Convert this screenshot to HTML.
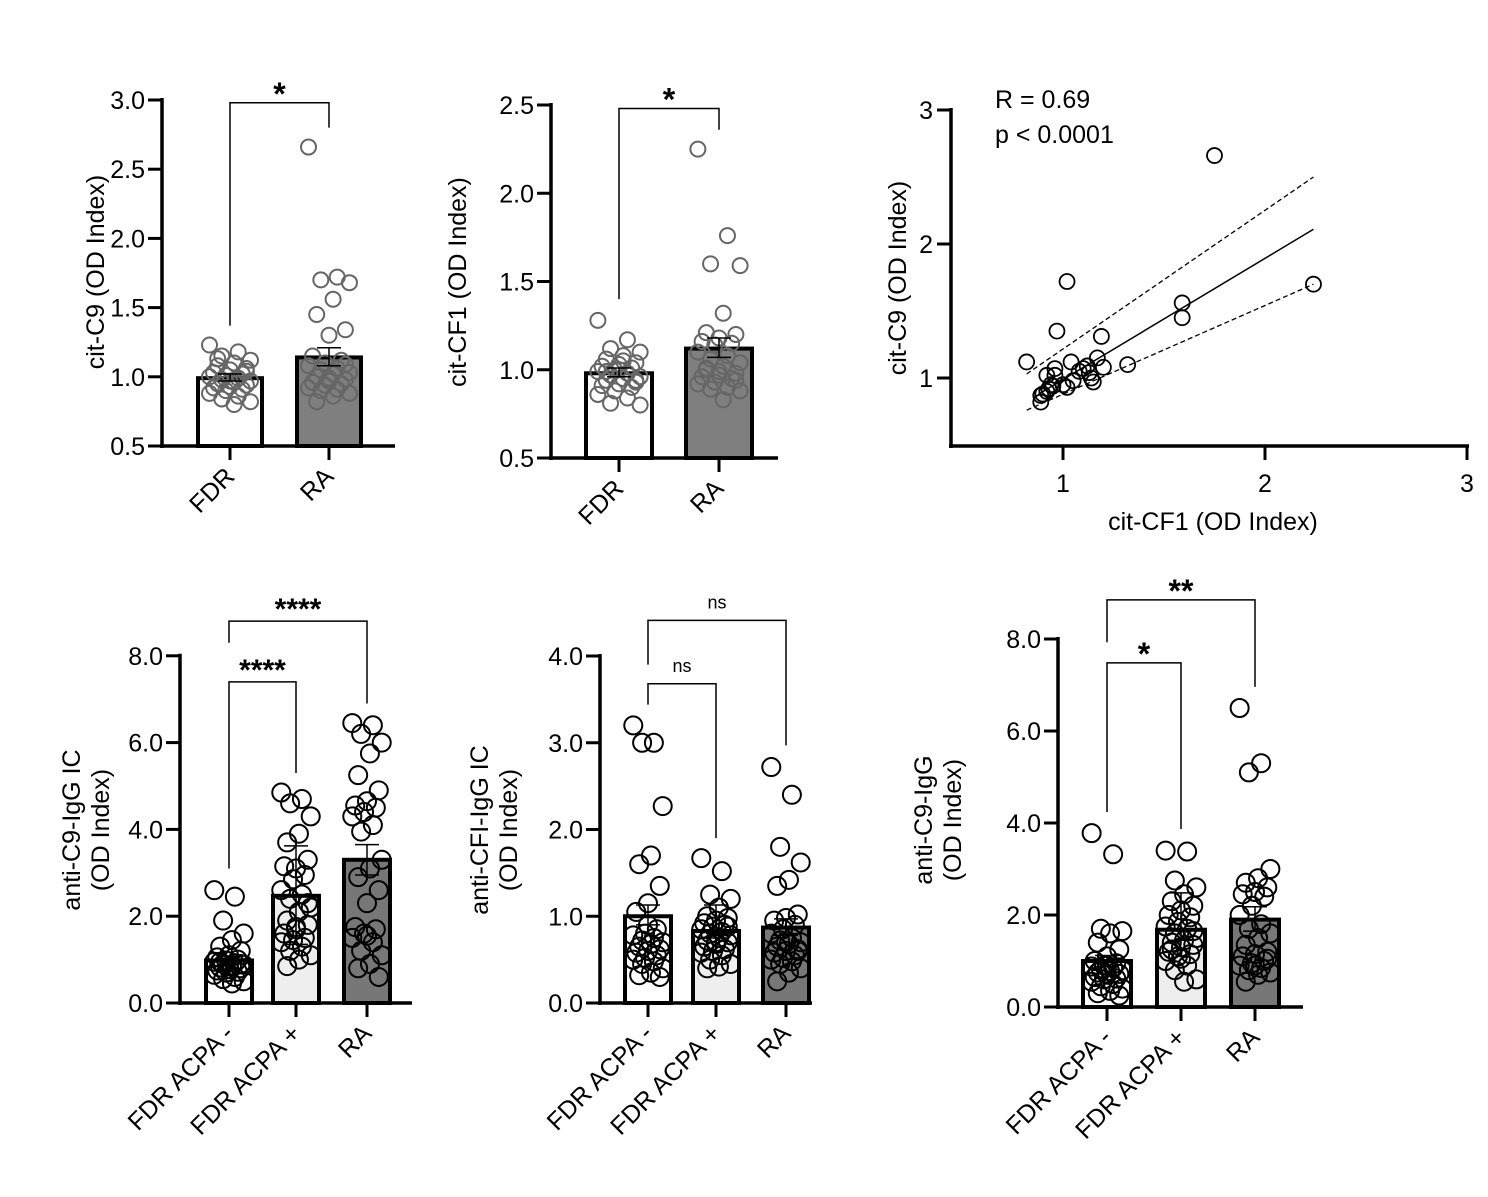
<!DOCTYPE html>
<html><head><meta charset="utf-8"><style>
body{margin:0;background:#fff}
svg text{font-family:"Liberation Sans",Arial,sans-serif;fill:#000}
</style></head><body>
<svg id="fig" width="1488" height="1192" viewBox="0 0 1488 1192"></svg>
<script>
// ---- data ----
const catsTop = ["FDR","RA"];
const catsBot = ["FDR ACPA -","FDR ACPA +","RA"];

const aFDR = [1.23,1.18,1.15,1.12,1.10,1.08,1.06,1.05,1.03,1.02,1.01,1.00,0.99,0.98,0.97,0.96,0.95,0.94,0.93,0.92,0.91,0.90,0.88,0.86,0.84,0.82,0.80,1.13,1.04,0.97];
const aRA = [2.66,1.72,1.70,1.68,1.56,1.45,1.34,1.30,1.15,1.12,1.10,1.08,1.06,1.05,1.03,1.02,1.00,0.98,0.97,0.96,0.95,0.94,0.92,0.91,0.90,0.88,0.86,0.82,1.09,0.99];
const aMeans = [0.99,1.14];
const aErrUp = [1.02,1.21];
const aErrDn = [0.97,1.08];

const bFDR = [1.28,1.17,1.12,1.10,1.08,1.06,1.04,1.03,1.02,1.01,1.00,0.99,0.98,0.97,0.96,0.95,0.94,0.93,0.92,0.91,0.90,0.88,0.86,0.84,0.81,0.80,1.05,0.99,0.94,1.00];
const bRA = [2.25,1.76,1.60,1.59,1.32,1.21,1.20,1.18,1.16,1.15,1.14,1.10,1.08,1.06,1.04,1.02,1.00,0.98,0.97,0.96,0.95,0.93,0.92,0.90,0.89,0.88,0.83,1.01,0.94,0.99];
const bMeans = [0.98,1.12];
const bErrUp = [1.01,1.18];
const bErrDn = [0.96,1.07];

const cX = [1.75,1.02,2.24,1.59,1.59,0.97,1.19,0.82,1.17,1.04,1.32,1.20,0.96,1.10,1.12,1.13,1.08,0.92,0.96,1.15,1.14,1.05,1.00,1.02,0.94,0.93,0.92,0.90,0.89,0.89,0.95];
const cY = [2.66,1.72,1.70,1.56,1.45,1.35,1.31,1.12,1.15,1.12,1.10,1.08,1.07,1.07,1.09,1.04,1.05,1.02,1.02,0.97,1.00,0.98,0.95,0.93,0.95,0.92,0.90,0.88,0.87,0.82,0.94];
const fitX = [0.88,2.24];
const fitY = [0.88,2.11];
const bandX = [0.82,2.24];
const bandUpY = [1.03,2.50];
const bandLoY = [0.76,1.70];

const dG1 = [2.6,2.45,1.9,1.6,1.45,1.3,1.2,1.1,1.05,1.0,0.98,0.95,0.92,0.9,0.88,0.85,0.82,0.8,0.78,0.75,0.72,0.7,0.65,0.6,0.55,0.5,0.45,0.95,0.9,0.85];
const dG2 = [4.85,4.7,4.6,4.3,3.9,3.7,3.3,3.1,3.15,2.95,2.85,2.6,2.5,2.4,2.2,2.1,1.9,1.8,1.7,1.6,1.5,1.45,1.4,1.3,1.2,1.1,1.0,0.85,2.3,1.75];
const dG3 = [6.45,6.4,6.2,6.0,5.75,5.25,4.9,4.65,4.55,4.5,4.4,4.3,4.1,3.95,3.3,3.1,2.9,2.6,2.3,1.75,1.7,1.6,1.5,1.4,1.2,1.1,0.9,0.8,0.6,1.55];
const dMeans = [0.98,2.47,3.3];
const dErrUp = [1.08,3.62,3.65];
const dErrDn = [0.9,1.35,2.95];

const eG1 = [3.2,3.0,3.0,2.27,1.7,1.6,1.35,1.15,1.05,0.85,0.8,0.78,0.75,0.72,0.7,0.68,0.65,0.62,0.6,0.58,0.55,0.52,0.5,0.48,0.45,0.4,0.35,0.32,0.3,0.9];
const eG2 = [1.67,1.52,1.25,1.2,1.1,1.0,0.98,0.95,0.92,0.9,0.88,0.85,0.82,0.8,0.78,0.75,0.72,0.7,0.68,0.65,0.62,0.6,0.58,0.55,0.5,0.45,0.42,0.4,0.88,0.7];
const eG3 = [2.72,2.4,1.8,1.62,1.42,1.35,1.02,0.98,0.95,0.9,0.85,0.8,0.75,0.72,0.7,0.68,0.65,0.62,0.6,0.58,0.55,0.52,0.5,0.48,0.45,0.4,0.35,0.25,0.6,0.7];
const eMeans = [1.0,0.83,0.87];
const eErrUp = [1.13,1.13,0.97];
const eErrDn = [0.9,0.75,0.78];

const fG1 = [3.78,3.32,1.7,1.65,1.6,1.4,1.25,1.1,1.0,0.95,0.9,0.88,0.85,0.82,0.8,0.78,0.75,0.72,0.7,0.65,0.62,0.6,0.55,0.5,0.45,0.4,0.35,0.3,0.25,0.9];
const fG2 = [3.4,3.38,2.75,2.6,2.45,2.3,2.2,2.1,2.0,1.95,1.85,1.75,1.7,1.6,1.5,1.45,1.4,1.35,1.3,1.2,1.15,1.1,1.0,0.9,0.8,0.6,0.55,1.25,1.65,1.05];
const fG3 = [6.5,5.3,5.1,3.0,2.8,2.7,2.6,2.5,2.45,2.4,2.2,2.0,1.8,1.7,1.6,1.5,1.35,1.2,1.15,1.1,1.0,0.95,0.9,0.85,0.8,0.75,0.7,0.55,1.05,0.9];
const fMeans = [1.0,1.68,1.9];
const fErrUp = [1.12,2.48,2.18];
const fErrDn = [0.88,1.45,1.65];

const ticksA = [0.5,1.0,1.5,2.0,2.5,3.0];
const ticksB = [0.5,1.0,1.5,2.0,2.5];
const ticksC = [1,2,3];
const ticksD = [0,2,4,6,8];
const ticksE = [0,1,2,3,4];

// ---- drawing ----
const NS="http://www.w3.org/2000/svg";
const svg=document.getElementById('fig');
function el(tag,attrs,parent){const e=document.createElementNS(NS,tag);for(const k in attrs)e.setAttribute(k,attrs[k]);(parent||svg).appendChild(e);return e;}
function txt(s,attrs,parent){const t=el('text',attrs,parent);t.textContent=s;return t;}
function lin(x1,y1,x2,y2,w,parent,extra){const l=el('line',Object.assign({x1,y1,x2,y2,stroke:'#000','stroke-width':w},extra||{}),parent);return l;}

function barPanel(cfg){
  const g=el('g',{});
  
  
  const y=v=>cfg.y0-(v-cfg.vmin)*cfg.ppu;
  cfg.groups.forEach((pts,i)=>{
    const cx=cfg.cx[i],w=cfg.bw;
    const r=el('rect',{x:cx-w/2,y:y(cfg.means[i]),width:w,height:cfg.y0-y(cfg.means[i]),fill:cfg.fills[i],stroke:'#000','stroke-width':4},g);
    
    
  });
  cfg.groups.forEach((pts,i)=>{
    pts.forEach((v,j)=>{
      const dx=(((j*7)%11)-5)/5*cfg.bw*0.32;
      const c=el('circle',{cx:cfg.cx[i]+dx,cy:y(v),r:cfg.pr,fill:'none',stroke:cfg.pc,'stroke-width':2},g);
      
      
    });
  });
  cfg.groups.forEach((pts,i)=>{
    const cx=cfg.cx[i];
    lin(cx,y(cfg.errUp[i]),cx,y(cfg.errDn[i]),1.5,g);
    lin(cx-12,y(cfg.errUp[i]),cx+12,y(cfg.errUp[i]),1.5,g);
    lin(cx-12,y(cfg.errDn[i]),cx+12,y(cfg.errDn[i]),1.5,g);
  });
  lin(cfg.ax,cfg.y0+2,cfg.ax,y(cfg.ticks[cfg.ticks.length-1])-2,3.5,g);
  lin(cfg.ax-2,cfg.y0,cfg.axEnd,cfg.y0,3.5,g);
  cfg.ticks.forEach(t=>{
    lin(cfg.ax-14,y(t),cfg.ax,y(t),3,g);
    const tl=txt(t.toFixed(1),{x:cfg.ax-17,y:y(t)+9,'font-size':25,'text-anchor':'end'},g);
    
    
  });
  cfg.cats.forEach((c,i)=>{
    lin(cfg.cx[i],cfg.y0,cfg.cx[i],cfg.y0+14,3,g);
    const tl=txt(c,{x:cfg.cx[i]+6,y:cfg.y0+32,'font-size':25,'text-anchor':'end',transform:`rotate(-45 ${cfg.cx[i]+6} ${cfg.y0+32})`},g);
    
    
  });
  cfg.title.forEach((s,k)=>{
    const tx=cfg.tx+k*29,ty=cfg.ty;
    const t=txt(s,{x:tx,y:ty,'font-size':25,'text-anchor':'middle',transform:`rotate(-90 ${tx} ${ty})`},g);
    
    
  });
  cfg.brackets.forEach(b=>{
    const x1=cfg.cx[b.a],x2=cfg.cx[b.b];
    el('polyline',{points:`${x1},${y(b.l)} ${x1},${y(b.top)} ${x2},${y(b.top)} ${x2},${y(b.r)}`,fill:'none',stroke:'#000','stroke-width':1.5},g);
    const t=txt(b.s,{x:(x1+x2)/2,y:y(b.top)+b.dy,'font-size':b.fs,'font-weight':b.s==='ns'?'normal':'bold','text-anchor':'middle'},g);
    
    
  });
}

barPanel({name:'panel-cit-c9',cats:catsTop,groups:[aFDR,aRA],means:aMeans,errUp:aErrUp,errDn:aErrDn,
  cx:[230,329],bw:64,ax:162,axEnd:395,y0:446,vmin:0.5,ppu:138.4,ticks:ticksA,fills:['#fff','#7f7f7f'],pc:'#666',pr:7.5,
  title:['cit-C9 (OD Index)'],tx:104,ty:272,
  brackets:[{a:0,b:1,top:2.98,l:1.37,r:2.8,s:'*',dy:2,fs:32}]});
barPanel({name:'panel-cit-cf1',cats:catsTop,groups:[bFDR,bRA],means:bMeans,errUp:bErrUp,errDn:bErrDn,
  cx:[619,719],bw:66,ax:551,axEnd:778,y0:458,vmin:0.5,ppu:176.5,ticks:ticksB,fills:['#fff','#7f7f7f'],pc:'#666',pr:7.5,
  title:['cit-CF1 (OD Index)'],tx:466,ty:282,
  brackets:[{a:0,b:1,top:2.48,l:1.4,r:2.36,s:'*',dy:2,fs:32}]});
barPanel({name:'panel-anti-c9-igg-ic',cats:catsBot,groups:[dG1,dG2,dG3],means:dMeans,errUp:dErrUp,errDn:dErrDn,
  cx:[229,296,367],bw:46,ax:180,axEnd:412,y0:1003,vmin:0,ppu:43.4,ticks:ticksD,fills:['#fff','#eee','#777'],pc:'#000',pr:9,
  title:['anti-C9-IgG IC','(OD Index)'],tx:80,ty:830,
  brackets:[{a:0,b:1,top:7.4,l:3.1,r:5.3,s:'****',dy:-2,fs:30},{a:0,b:2,top:8.8,l:8.3,r:6.9,s:'****',dy:-2,fs:30}]});
barPanel({name:'panel-anti-cfi-igg-ic',cats:catsBot,groups:[eG1,eG2,eG3],means:eMeans,errUp:eErrUp,errDn:eErrDn,
  cx:[648,716,786],bw:46,ax:600,axEnd:812,y0:1003,vmin:0,ppu:86.75,ticks:ticksE,fills:['#fff','#eee','#777'],pc:'#000',pr:9,
  title:['anti-CFI-IgG IC','(OD Index)'],tx:488,ty:830,
  brackets:[{a:0,b:1,top:3.68,l:3.44,r:1.9,s:'ns',dy:-12,fs:18},{a:0,b:2,top:4.41,l:3.9,r:2.97,s:'ns',dy:-12,fs:18}]});
barPanel({name:'panel-anti-c9-igg',cats:catsBot,groups:[fG1,fG2,fG3],means:fMeans,errUp:fErrUp,errDn:fErrDn,
  cx:[1107,1181,1255],bw:48,ax:1058,axEnd:1303,y0:1007,vmin:0,ppu:46,ticks:ticksD,fills:['#fff','#eee','#777'],pc:'#000',pr:9,
  title:['anti-C9-IgG','(OD Index)'],tx:932,ty:820,
  brackets:[{a:0,b:1,top:7.48,l:4.24,r:3.87,s:'*',dy:2,fs:32},{a:0,b:2,top:8.85,l:7.93,r:6.96,s:'**',dy:2,fs:32}]});

(function(){
  const g=el('g',{});
  
  
  const X=v=>1063+(v-1)*202, Y=v=>378-(v-1)*134;
  const ax=951, y0=446;
  lin(ax,y0+2,ax,Y(3)-2,3.5,g);
  lin(ax-2,y0,1469,y0,3.5,g);
  ticksC.forEach(t=>{
    lin(ax-14,Y(t),ax,Y(t),3,g);
    const a=txt(String(t),{x:ax-18,y:Y(t)+9,'font-size':25,'text-anchor':'end'},g);
    
    
    lin(X(t),y0,X(t),y0+14,3,g);
    const b=txt(String(t),{x:X(t),y:y0+46,'font-size':25,'text-anchor':'middle'},g);
    
    
  });
  const fl=el('line',{x1:X(fitX[0]),y1:Y(fitY[0]),x2:X(fitX[1]),y2:Y(fitY[1]),stroke:'#000','stroke-width':1.5},g);
  
  
  const bu=el('line',{x1:X(bandX[0]),y1:Y(bandUpY[0]),x2:X(bandX[1]),y2:Y(bandUpY[1]),stroke:'#000','stroke-width':1.3,'stroke-dasharray':'5,3'},g);
  
  
  const bl=el('line',{x1:X(bandX[0]),y1:Y(bandLoY[0]),x2:X(bandX[1]),y2:Y(bandLoY[1]),stroke:'#000','stroke-width':1.3,'stroke-dasharray':'5,3'},g);
  
  
  cX.forEach((v,i)=>{
    const c=el('circle',{cx:X(v),cy:Y(cY[i]),r:7.5,fill:'none',stroke:'#000','stroke-width':1.8},g);
    
    
  });
  const t1=txt('R = 0.69',{x:995,y:108,'font-size':25},g);
  
  
  const t2=txt('p < 0.0001',{x:995,y:143,'font-size':25},g);
  
  
  const xt=txt('cit-CF1 (OD Index)',{x:1213,y:530,'font-size':25,'text-anchor':'middle'},g);
  
  
  const yt=txt('cit-C9 (OD Index)',{x:906,y:278,'font-size':25,'text-anchor':'middle',transform:'rotate(-90 906 278)'},g);
  
  
})();
</script>
</body></html>
